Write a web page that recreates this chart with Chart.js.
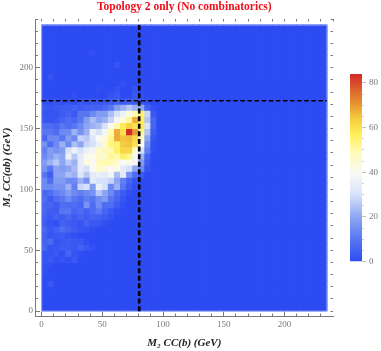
<!DOCTYPE html>
<html>
<head>
<meta charset="utf-8">
<script src="https://cdn.jsdelivr.net/npm/chart.js@4"></script>
<style>
html,body{margin:0;padding:0;background:#fff;overflow:hidden}
#main{position:absolute;left:0;top:0}
#bar{position:absolute;left:330px;top:60px}
</style>
</head>
<body>
<canvas id="main" width="381" height="351" style="width:381px;height:351px"></canvas>
<canvas id="bar" width="51" height="210" style="width:51px;height:210px"></canvas>
<script>
const titleText = "Topology 2 only (No combinatorics)";
const xTitle = "M\u2082 CC(b) (GeV)";
const yTitle = "M\u2082 CC(ab) (GeV)";
const binWidth = 5;
const binCount = 47;
const majorTicks = [0, 50, 100, 150, 200];
const minorTicks = [0,10,20,30,40,50,60,70,80,90,100,110,120,130,140,150,160,170,180,190,200,210,220,230,240];
const colorbarTicks = [0, 20, 40, 60, 80];
const colorbarMinor = [0,5,10,15,20,25,30,35,40,45,50,55,60,65,70,75,80];
const colorbarMax = 84;
const cutX = 80.4;
const cutY = 172.8;
// counts per cell, first row = top of the plot, each row starts at x = 0
const counts = [
[],[],[],[],
[0,0,0,0,0,0,0,0,1],
[],
[0,0,0,0,0,0,0,0,0,0,0,0,2],
[],
[0,2],
[0,0,0,0,0,0,0,0,0,0,0,0,0,1],
[0,0,0,0,0,0,0,0,0,1,0,0,2,0,0,2],
[0,0,0,0,0,1,0,0,0,0,0,2,3,0,0,3,1],
[1,1,2,1,2,1,3,2,3,3,3,4,5,4,5,4,3,1],
[3,2,3,4,4,5,4,5,5,5,7,10,18,22,26,22,20,5,1],
[2,2,2,4,5,3,10,10,14,18,18,24,30,36,44,50,55,28,3],
[3,2,3,5,8,6,10,18,24,20,22,28,38,44,52,68,57,25,6],
[8,8,6,10,8,10,14,20,22,24,30,40,50,58,63,60,58,30,6],
[10,10,8,14,14,22,16,22,36,30,38,50,68,60,84,70,52,25,4],
[6,14,14,10,18,14,28,26,32,40,44,52,68,65,66,62,46,20,2],
[16,8,14,22,14,24,20,28,30,36,46,54,55,64,65,60,40,15,1],
[12,18,16,18,30,36,30,36,38,46,48,50,56,62,62,46,30,12,1],
[14,18,22,20,36,26,34,40,42,46,46,52,50,56,53,38,22,6],
[18,22,26,20,26,22,34,44,40,48,50,50,46,40,42,38,18,4],
[16,10,20,18,20,24,34,30,40,46,44,40,42,34,30,20,14,2],
[10,4,20,20,24,22,32,26,34,36,34,38,24,34,16,8,3],
[14,8,18,18,14,14,22,16,34,30,30,28,20,12,6,2],
[14,14,16,16,22,12,28,30,18,36,30,14,22,10,4,1],
[6,8,12,14,18,14,12,14,16,26,20,14,8,4,1],
[8,4,8,10,14,10,8,12,10,15,18,10,6,2],
[6,6,4,8,8,8,6,16,8,15,8,8,4,1],
[6,4,4,10,10,6,8,5,8,11,6,3,1],
[5,3,5,4,6,4,6,4,6,5,4,2],
[4,2,1,5,4,3,2,5,3,3,1],
[6,3,5,8,6,4,2,2,1],
[5,2,3,4,2,1],
[5,7,2,3,4,3,3,1],
[6,2,2,4,4,3,5,3,1],
[2,2,3,1,6,2,1],
[2,3,1,2,1,3],
[1,1],
[1],
[],
[0,3],
[],[],[],[]
];
const stopValues = [0, 10, 20, 30, 40, 50, 57, 64, 72, 79, 84];
const stopColors = [[45,75,242],[88,118,242],[140,165,242],[215,225,250],[250,250,245],[255,250,175],[255,240,90],[245,205,65],[228,140,50],[218,85,45],[215,40,40]];

function colorFor(v) {
  let i = 0;
  while (i < stopValues.length - 2 && v > stopValues[i + 1]) i++;
  const t = Math.min(1, (v - stopValues[i]) / (stopValues[i + 1] - stopValues[i]));
  const c = stopColors[i].map((a, k) => Math.round(a + (stopColors[i + 1][k] - a) * t));
  return `rgb(${c[0]},${c[1]},${c[2]})`;
}

const tickColor = "#7a7a7a";
const labelFont = { family: "'Liberation Serif', serif", size: 9 };

function setTicks(list) {
  return scale => { scale.ticks = list.map(v => ({ value: v })); };
}
function forceWidth(w) { return s => { s.width = w; }; }
function forceHeight(h) { return s => { s.height = h; }; }

function tickAxis(axis, position, list, length, weight, extent) {
  const horizontal = axis === "x";
  return {
    type: "linear", axis, position, weight, offset: false,
    min: horizontal ? -5 : -4, max: 240,
    border: { display: false },
    grid: { offset: false, drawOnChartArea: false, drawTicks: true, tickLength: length, tickColor, tickWidth: 1 },
    ticks: { display: false, autoSkip: false, maxRotation: 0 },
    afterBuildTicks: setTicks(list),
    afterFit: horizontal ? forceHeight(extent) : forceWidth(extent)
  };
}

const cellDatasets = counts.map((row, i) => {
  const bottom = (binCount - 1 - i) * binWidth;
  const cells = [];
  const colors = [];
  for (let c = 0; c < binCount; c++) {
    cells.push({ x: c * binWidth + binWidth / 2, y: [bottom, bottom + binWidth] });
    colors.push(colorFor(row[c] || 0));
  }
  return {
    type: "bar", data: cells, backgroundColor: colors, borderWidth: 0, inflateAmount: 0.5,
    grouped: false, barPercentage: 1, categoryPercentage: 1, order: 2
  };
});

const lineDefaults = { type: "line", pointRadius: 0, fill: false, tension: 0, borderColor: "#000", order: 0 };
const upper = binCount * binWidth;

new Chart(document.getElementById("main"), {
  data: {
    datasets: [
      { ...lineDefaults, data: [{ x: cutX, y: 0 }, { x: cutX, y: upper }], borderWidth: 2.6, borderDash: [5, 2.6] },
      { ...lineDefaults, data: [{ x: 0, y: cutY }, { x: upper, y: cutY }], borderWidth: 1.5, borderDash: [4.5, 2.6] },
      { ...lineDefaults, order: 1, borderColor: "#8ea6f8", borderWidth: 1,
        data: [{ x: 0, y: 0 }, { x: upper, y: 0 }, { x: upper, y: upper }, { x: 0, y: upper }, { x: 0, y: 0 }] },
      ...cellDatasets
    ]
  },
  options: {
    responsive: false, animation: false, events: [],
    layout: { padding: { left: 0, right: 48, top: 0, bottom: 0 } },
    plugins: {
      legend: { display: false }, tooltip: { enabled: false },
      title: {
        display: true, text: titleText, color: "#f0101a", fullSize: false,
        font: { family: "'Liberation Serif', serif", size: 11.5, weight: "bold", lineHeight: 1 },
        padding: { top: 1, bottom: 6.5 }
      }
    },
    scales: {
      x: {
        type: "linear", axis: "x", position: "bottom", weight: 0, min: -5, max: 240, offset: false,
        border: { display: true, color: tickColor, width: 1 },
        grid: { offset: false, drawOnChartArea: false, drawTicks: true, tickLength: -4.5, tickColor, tickWidth: 1 },
        ticks: { autoSkip: false, maxRotation: 0, padding: 8, color: "#777", font: labelFont },
        afterBuildTicks: setTicks(majorTicks),
        afterFit: forceHeight(35),
        title: { display: true, text: xTitle, color: "#222",
          font: { family: "'Liberation Serif', serif", size: 11, weight: "bold", style: "italic", lineHeight: 1 },
          padding: { top: 15, bottom: 2 } }
      },
      y: {
        type: "linear", axis: "y", position: "left", weight: 0, min: -4, max: 240,
        border: { display: true, color: tickColor, width: 1 },
        grid: { drawOnChartArea: false, drawTicks: true, tickLength: -4.5, tickColor, tickWidth: 1 },
        ticks: { autoSkip: false, maxRotation: 0, padding: 7, color: "#777", font: labelFont },
        afterBuildTicks: setTicks(majorTicks),
        afterFit: forceWidth(35.5),
        title: { display: true, text: yTitle, color: "#222",
          font: { family: "'Liberation Serif', serif", size: 11, weight: "bold", style: "italic", lineHeight: 1 },
          padding: { top: 2, bottom: 2 } }
      },
      xMinor: tickAxis("x", "bottom", minorTicks.slice(0, -1), -2.5, -1, 0),
      yMinor: tickAxis("y", "left", minorTicks, -2.5, -1, 0),
      xTop: tickAxis("x", "top", minorTicks, -2.5, 0, 0),
      yRight: tickAxis("y", "right", minorTicks, -2.5, 0, 0)
    }
  }
});

const levels = [];
for (let v = 0; v < colorbarMax; v += 1) levels.push(v);
new Chart(document.getElementById("bar"), {
  type: "bar",
  data: {
    labels: ["scale"],
    datasets: [{
      data: levels.map(v => ({ x: "scale", y: [v, v + 1] })),
      backgroundColor: levels.map(v => colorFor(v + 0.5)),
      borderWidth: 0, inflateAmount: 0.5, barPercentage: 1, categoryPercentage: 1
    }]
  },
  options: {
    responsive: false, animation: false, events: [],
    layout: { padding: { left: 20, right: 0, top: 14, bottom: 8 } },
    plugins: { legend: { display: false }, tooltip: { enabled: false } },
    scales: {
      x: { display: false, type: "category", labels: ["scale"] },
      y: {
        type: "linear", axis: "y", position: "right", weight: 0, min: 0, max: colorbarMax,
        border: { display: false },
        grid: { drawOnChartArea: false, drawTicks: true, tickLength: 4, tickColor: "#b5b5b5", tickWidth: 1 },
        ticks: { autoSkip: false, maxRotation: 0, padding: 3, color: "#777", font: labelFont },
        afterBuildTicks: setTicks(colorbarTicks),
        afterFit: forceWidth(19)
      },
      yMinor: {
        type: "linear", axis: "y", position: "right", weight: -1, min: 0, max: colorbarMax,
        border: { display: false },
        grid: { drawOnChartArea: false, drawTicks: true, tickLength: 2, tickColor: "#cfcfcf", tickWidth: 1 },
        ticks: { display: false, autoSkip: false },
        afterBuildTicks: setTicks(colorbarMinor),
        afterFit: forceWidth(0)
      }
    }
  }
});
</script>
</body>
</html>
